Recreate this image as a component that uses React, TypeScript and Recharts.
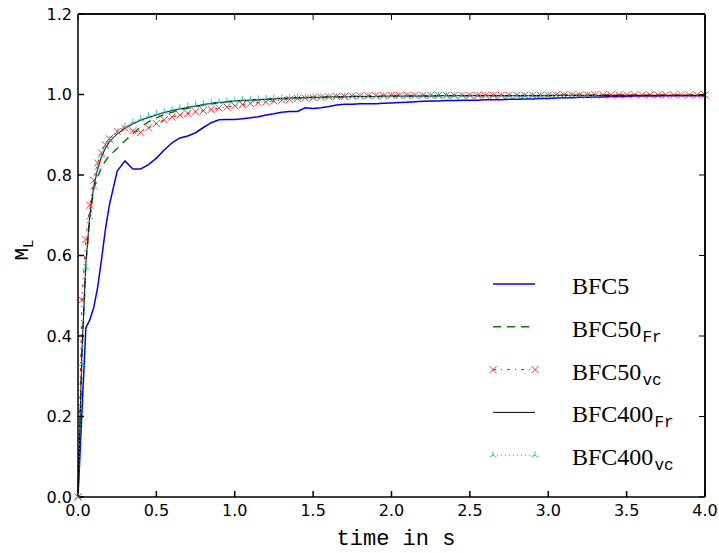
import { CartesianGrid, Legend, Line, LineChart, XAxis, YAxis } from "recharts";

// time grid (s)
const times = [
  0, 0.025, 0.05, 0.075, 0.1, 0.125, 0.15, 0.175, 0.2, 0.25,
  0.3, 0.35, 0.4, 0.45, 0.5, 0.55, 0.6, 0.65, 0.7, 0.75,
  0.8, 0.85, 0.9, 0.95, 1.0, 1.05, 1.1, 1.15, 1.2, 1.25,
  1.3, 1.35, 1.4, 1.45, 1.5, 1.55, 1.6, 1.65, 1.7, 1.75,
  1.8, 1.85, 1.9, 1.95, 2.0, 2.05, 2.1, 2.15, 2.2, 2.25,
  2.3, 2.35, 2.4, 2.45, 2.5, 2.55, 2.6, 2.65, 2.7, 2.75,
  2.8, 2.85, 2.9, 2.95, 3.0, 3.05, 3.1, 3.15, 3.2, 3.25,
  3.3, 3.35, 3.4, 3.45, 3.5, 3.55, 3.6, 3.65, 3.7, 3.75,
  3.8, 3.85, 3.9, 3.95, 4.0
];

const bfc5 = [
  0, 0.21, 0.42, 0.44, 0.47, 0.52, 0.59, 0.665, 0.725, 0.81,
  0.835, 0.815, 0.815, 0.826, 0.842, 0.862, 0.88, 0.892, 0.897, 0.905,
  0.918, 0.93, 0.937, 0.938, 0.938, 0.94, 0.942, 0.945, 0.949, 0.952,
  0.956, 0.958, 0.958, 0.967, 0.965, 0.967, 0.97, 0.974, 0.976, 0.976,
  0.977, 0.977, 0.977, 0.978, 0.979, 0.98, 0.981, 0.982, 0.983, 0.984,
  0.984, 0.985, 0.985, 0.986, 0.986, 0.986, 0.987, 0.987, 0.987, 0.988,
  0.988, 0.989, 0.989, 0.99, 0.99, 0.991, 0.992, 0.992, 0.993, 0.993,
  0.994, 0.994, 0.995, 0.995, 0.995, 0.996, 0.996, 0.996, 0.996, 0.997,
  0.997, 0.997, 0.997, 0.997, 0.997
];

const bfc50Fr = [
  0, 0.35, 0.58, 0.69, 0.765, 0.795, 0.818, 0.835, 0.848, 0.866,
  0.885, 0.903, 0.92, 0.932, 0.942, 0.95, 0.956, 0.962, 0.966, 0.97,
  0.974, 0.977, 0.98, 0.982, 0.984, 0.985, 0.986, 0.987, 0.988, 0.989,
  0.99, 0.991, 0.992, 0.992, 0.993, 0.993, 0.994, 0.994, 0.994, 0.995,
  0.995, 0.995, 0.995, 0.996, 0.996, 0.996, 0.996, 0.996, 0.996, 0.996,
  0.997, 0.997, 0.997, 0.997, 0.997, 0.997, 0.997, 0.997, 0.997, 0.997,
  0.997, 0.997, 0.997, 0.997, 0.997, 0.998, 0.998, 0.998, 0.998, 0.998,
  0.998, 0.998, 0.998, 0.998, 0.998, 0.998, 0.998, 0.998, 0.998, 0.998,
  0.998, 0.998, 0.998, 0.998, 0.998
];

const bfc50Vc = [
  0, 0.49, 0.64, 0.725, 0.787, 0.83, 0.855, 0.875, 0.89, 0.908,
  0.916, 0.91, 0.906, 0.917, 0.928, 0.937, 0.944, 0.949, 0.953, 0.957,
  0.96, 0.963, 0.966, 0.969, 0.972, 0.975, 0.978, 0.98, 0.982, 0.984,
  0.986, 0.988, 0.99, 0.991, 0.992, 0.993, 0.994, 0.995, 0.995, 0.996,
  0.996, 0.997, 0.997, 0.997, 0.998, 0.998, 0.998, 0.998, 0.998, 0.998,
  0.998, 0.998, 0.998, 0.998, 0.998, 0.998, 0.998, 0.998, 0.998, 0.998,
  0.998, 0.998, 0.998, 0.998, 0.998, 0.999, 0.999, 0.999, 0.999, 0.999,
  0.999, 0.999, 0.999, 0.999, 0.999, 0.999, 0.999, 0.999, 0.999, 0.999,
  0.999, 0.999, 0.999, 0.999, 0.999
];

const bfc400Fr = [
  0, 0.36, 0.58, 0.7, 0.77, 0.815, 0.845, 0.866, 0.882, 0.902,
  0.916, 0.927, 0.936, 0.943, 0.949, 0.955, 0.96, 0.964, 0.968, 0.971,
  0.975, 0.978, 0.98, 0.982, 0.984, 0.985, 0.986, 0.987, 0.988, 0.989,
  0.99, 0.991, 0.992, 0.992, 0.993, 0.993, 0.994, 0.994, 0.994, 0.995,
  0.995, 0.995, 0.995, 0.996, 0.996, 0.996, 0.996, 0.996, 0.996, 0.996,
  0.997, 0.997, 0.997, 0.997, 0.997, 0.997, 0.997, 0.997, 0.997, 0.997,
  0.997, 0.997, 0.997, 0.997, 0.997, 0.998, 0.998, 0.998, 0.998, 0.998,
  0.998, 0.998, 0.998, 0.998, 0.998, 0.998, 0.998, 0.998, 0.998, 0.998,
  0.998, 0.998, 0.998, 0.998, 0.998
];

// stops at t = 3.3
const bfc400Vc = [
  0, 0.33, 0.57, 0.695, 0.77, 0.818, 0.848, 0.87, 0.886, 0.906,
  0.92, 0.931, 0.939, 0.946, 0.952, 0.957, 0.962, 0.966, 0.97, 0.973,
  0.976, 0.979, 0.981, 0.983, 0.985, 0.986, 0.987, 0.988, 0.989, 0.99,
  0.991, 0.991, 0.992, 0.993, 0.993, 0.994, 0.994, 0.994, 0.995, 0.995,
  0.995, 0.995, 0.996, 0.996, 0.996, 0.996, 0.996, 0.996, 0.996, 0.997,
  0.997, 0.997, 0.997, 0.997, 0.997, 0.997, 0.997, 0.997, 0.997, 0.997,
  0.997, 0.997, 0.997, 0.997, 0.997, 0.998, 0.998, 0.998, 0.998, 0.998,
  0.998, null, null, null, null, null, null, null, null, null,
  null, null, null, null, null
];

const xTicks = [0, 0.5, 1.0, 1.5, 2.0, 2.5, 3.0, 3.5, 4.0];
const yTicks = [0, 0.2, 0.4, 0.6, 0.8, 1.0, 1.2];

const data = times.map((t, i) => ({
  t,
  bfc5: bfc5[i],
  bfc50Fr: bfc50Fr[i],
  bfc50Vc: bfc50Vc[i],
  bfc400Fr: bfc400Fr[i],
  bfc400Vc: bfc400Vc[i]
}));

const X_MAX = 4;
const Y_MAX = 1.2;

// plot box, from the chart size, margins and axis sizes below
const W = 719;
const H = 553;
const MARGIN = { top: 14, right: 14, bottom: 0, left: 0 };
const Y_AXIS_W = 78;
const X_AXIS_H = 56;
const PLOT = {
  left: MARGIN.left + Y_AXIS_W,
  top: MARGIN.top,
  right: W - MARGIN.right,
  bottom: H - MARGIN.bottom - X_AXIS_H
};
const LEGEND_POS = { x: 485, y: 262 };

const RED = "#ff0000";
const CYAN = "#00bfbf";

function xPath(cx: number, cy: number, r: number) {
  return `M${cx - r},${cy - r}L${cx + r},${cy + r}M${cx - r},${cy + r}L${cx + r},${cy - r}`;
}

function triPath(cx: number, cy: number, r: number) {
  const dx = r * 0.866;
  const dy = r * 0.5;
  return `M${cx},${cy}L${cx},${cy - r}M${cx},${cy}L${cx - dx},${cy + dy}M${cx},${cy}L${cx + dx},${cy + dy}`;
}

const XDot = (props: any) => {
  const { cx, cy, value, index } = props;
  if (cx == null || cy == null || value == null) return <g key={index} />;
  return <path key={index} d={xPath(cx, cy, 3.5)} stroke={RED} strokeWidth={0.8} fill="none" />;
};

const TriDot = (props: any) => {
  const { cx, cy, value, index } = props;
  if (cx == null || cy == null || value == null) return <g key={index} />;
  return <path key={index} d={triPath(cx, cy, 4)} stroke={CYAN} strokeWidth={0.8} fill="none" />;
};

const legendRows = [
  { name: "BFC5", sub: "", color: "#0000ff", dash: undefined, width: 1.5, marker: "" },
  { name: "BFC50", sub: "Fr", color: "#008000", dash: "8 6", width: 1.5, marker: "" },
  { name: "BFC50", sub: "vc", color: RED, dash: "3 5 1 5", width: 1, marker: "x" },
  { name: "BFC400", sub: "Fr", color: "#000000", dash: undefined, width: 1, marker: "" },
  { name: "BFC400", sub: "vc", color: CYAN, dash: "1 3", width: 1, marker: "tri" }
];

// legend entries plus the top/right side of the box with inward ticks
function LegendAndFrame() {
  const pw = PLOT.right - PLOT.left;
  const ph = PLOT.bottom - PLOT.top;
  return (
    <svg width={W} height={H} style={{ display: "block" }}>
      <line x1={PLOT.left} x2={PLOT.right} y1={PLOT.top} y2={PLOT.top} stroke="#000" strokeWidth={1.5} />
      <line x1={PLOT.right} x2={PLOT.right} y1={PLOT.top} y2={PLOT.bottom} stroke="#000" strokeWidth={1.5} />
      {xTicks.map((v) => {
        const x = PLOT.left + (pw * v) / X_MAX;
        return <line key={`tx${v}`} x1={x} x2={x} y1={PLOT.top} y2={PLOT.top + 6} stroke="#000" strokeWidth={1} />;
      })}
      {yTicks.map((v) => {
        const y = PLOT.bottom - (ph * v) / Y_MAX;
        return <line key={`ty${v}`} x1={PLOT.right} x2={PLOT.right - 6} y1={y} y2={y} stroke="#000" strokeWidth={1} />;
      })}
      <g transform={`translate(${LEGEND_POS.x}, ${LEGEND_POS.y})`}>
        {legendRows.map((r, i) => {
          const cy = 22 + i * 42.8;
          return (
            <g key={i}>
              <line x1={8} x2={50} y1={cy} y2={cy} stroke={r.color} strokeWidth={r.width} strokeDasharray={r.dash} />
              {r.marker === "x" && (
                <>
                  <path d={xPath(8, cy, 3.5)} stroke={RED} strokeWidth={0.8} fill="none" />
                  <path d={xPath(50, cy, 3.5)} stroke={RED} strokeWidth={0.8} fill="none" />
                </>
              )}
              {r.marker === "tri" && (
                <>
                  <path d={triPath(8, cy, 4)} stroke={CYAN} strokeWidth={0.8} fill="none" />
                  <path d={triPath(50, cy, 4)} stroke={CYAN} strokeWidth={0.8} fill="none" />
                </>
              )}
              <text x={87} y={cy + 10} fontFamily="Liberation Serif" fontSize={24} fill="#000">
                {r.name}
                {r.sub && (
                  <tspan dy={5} dx={1} fontFamily="Liberation Mono" fontSize={16}>
                    {r.sub}
                  </tspan>
                )}
              </text>
            </g>
          );
        })}
      </g>
    </svg>
  );
}

const tickStyle = { fontFamily: "DejaVu Sans", fontSize: 16, fill: "#000" };

export default function App() {
  return (
    <div style={{ position: "absolute", left: 0, top: 0, width: W, height: H, background: "#fff" }}>
      <LineChart width={W} height={H} data={data} margin={MARGIN}>
        {/* grid lines only at the top and right edge of the plot, closing the box */}
        <CartesianGrid
          stroke="#000"
          strokeWidth={1.5}
          horizontalCoordinatesGenerator={({ offset }: any) => [offset.top]}
          verticalCoordinatesGenerator={({ offset }: any) => [offset.left + offset.width]}
        />
        <XAxis
          dataKey="t"
          type="number"
          domain={[0, X_MAX]}
          ticks={xTicks}
          tickFormatter={(v: number) => v.toFixed(1)}
          tick={tickStyle}
          tickSize={-6}
          tickMargin={14}
          height={X_AXIS_H}
          stroke="#000"
          strokeWidth={1.5}
          label={{
            content: () => (
              <text x={396} y={545} textAnchor="middle" fontFamily="Liberation Mono" fontSize={22} fill="#000">
                time in s
              </text>
            )
          }}
        />
        <YAxis
          type="number"
          domain={[0, Y_MAX]}
          ticks={yTicks}
          tickFormatter={(v: number) => v.toFixed(1)}
          tick={tickStyle}
          tickSize={-6}
          tickMargin={12}
          width={Y_AXIS_W}
          stroke="#000"
          strokeWidth={1.5}
          label={{
            content: () => (
              <text
                x={0}
                y={0}
                transform="translate(28, 250) rotate(-90)"
                textAnchor="middle"
                fontFamily="Liberation Mono"
                fontSize={21}
                fill="#000"
              >
                M
                <tspan dy={5} fontSize={14}>
                  L
                </tspan>
              </text>
            )
          }}
        />
        <Line type="linear" dataKey="bfc5" name="BFC5" stroke="#0000ff" strokeWidth={1.5} dot={false} activeDot={false} isAnimationActive={false} />
        <Line type="linear" dataKey="bfc50Fr" name="BFC50Fr" stroke="#008000" strokeWidth={1.5} strokeDasharray="8 6" dot={false} activeDot={false} isAnimationActive={false} />
        <Line type="linear" dataKey="bfc50Vc" name="BFC50vc" stroke={RED} strokeWidth={1} strokeDasharray="3 5 1 5" dot={XDot} activeDot={false} isAnimationActive={false} />
        <Line type="linear" dataKey="bfc400Fr" name="BFC400Fr" stroke="#000000" strokeWidth={1} dot={false} activeDot={false} isAnimationActive={false} />
        <Line type="linear" dataKey="bfc400Vc" name="BFC400vc" stroke={CYAN} strokeWidth={1} strokeDasharray="1 3" dot={TriDot} activeDot={false} isAnimationActive={false} />
        <Legend
          layout="vertical"
          align="center"
          verticalAlign="middle"
          content={() => <LegendAndFrame />}
          wrapperStyle={{ position: "absolute", left: 0, top: 0, width: W, height: H, pointerEvents: "none" }}
        />
      </LineChart>
    </div>
  );
}
